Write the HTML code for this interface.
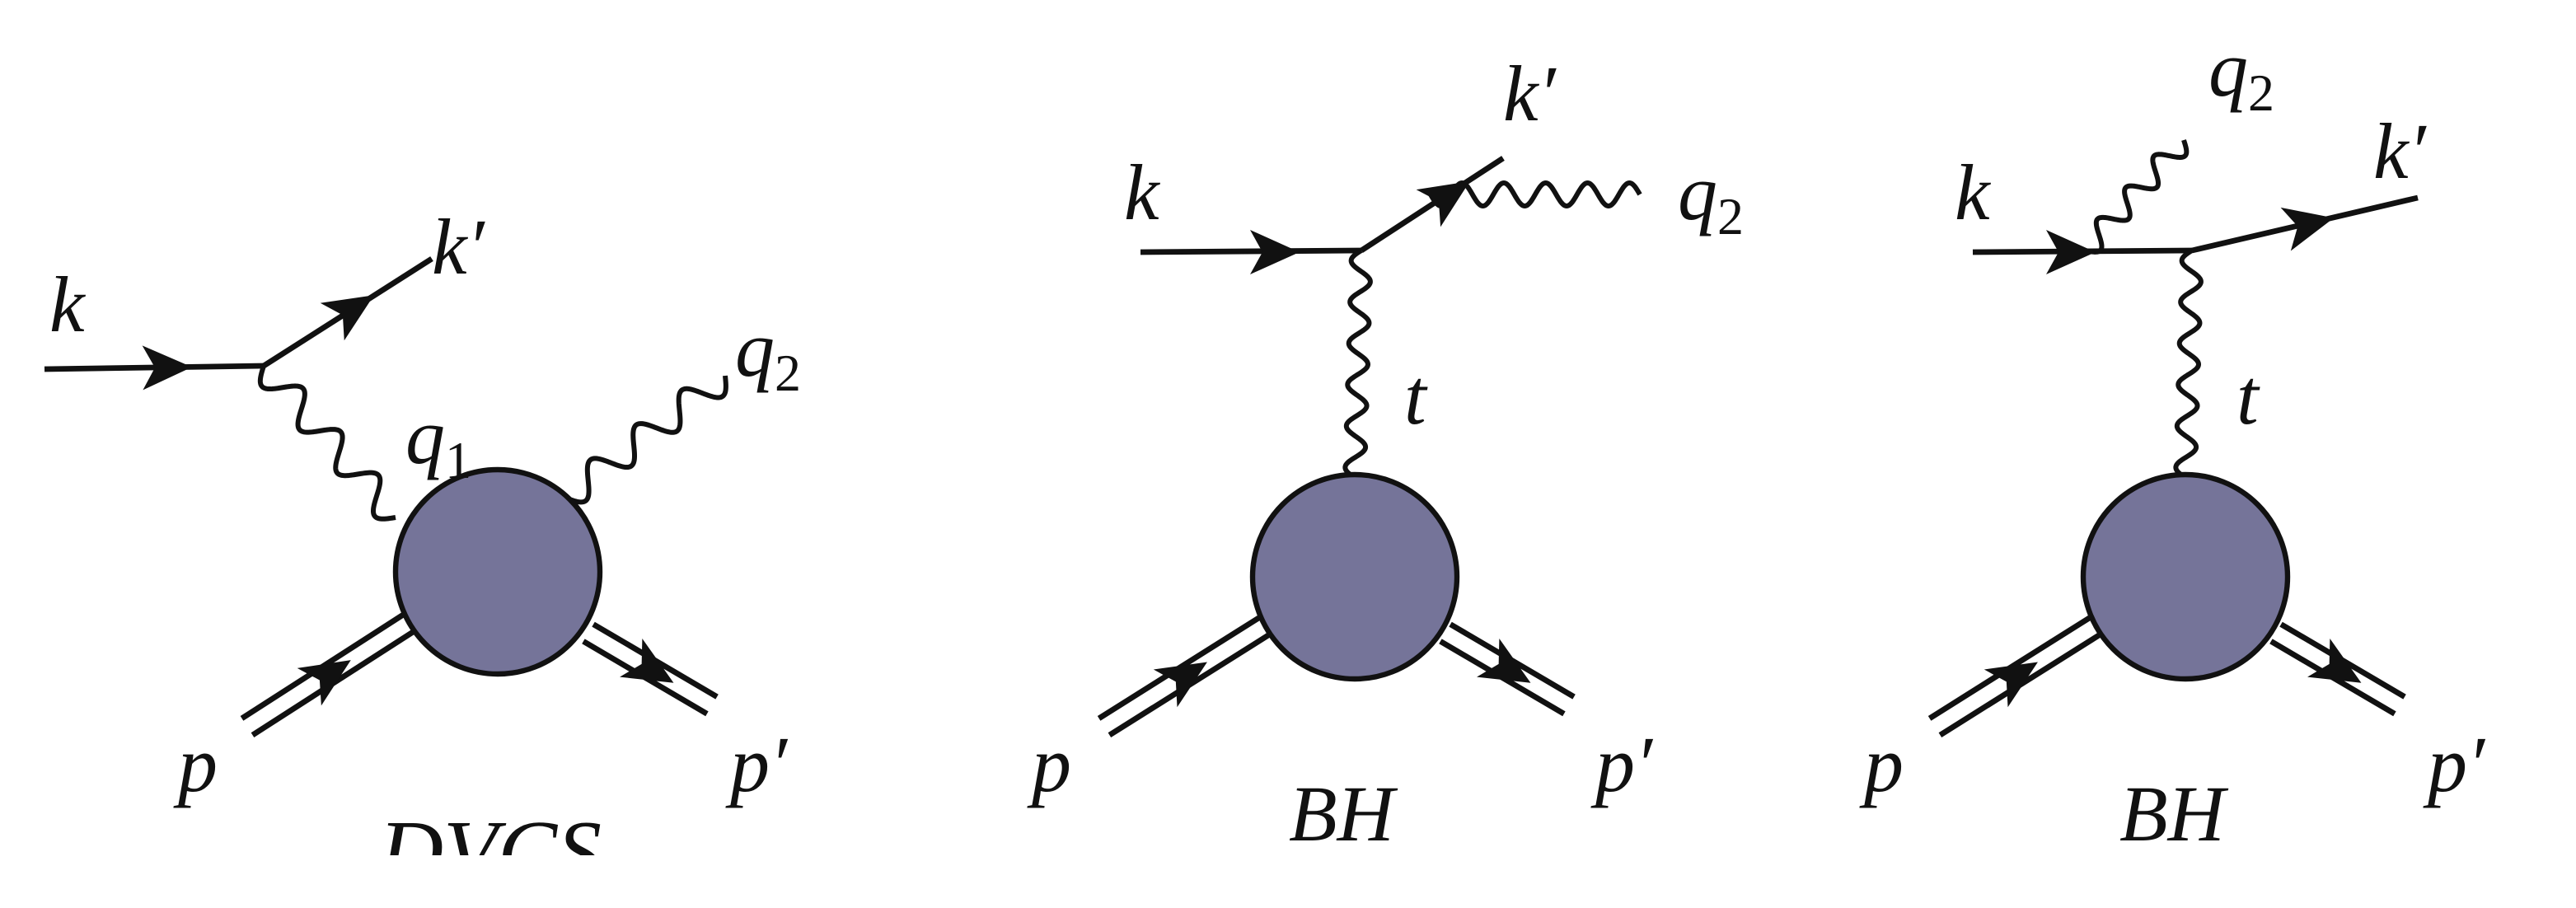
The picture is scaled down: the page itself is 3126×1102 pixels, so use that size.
<!DOCTYPE html>
<html><head><meta charset="utf-8">
<style>html,body{margin:0;padding:0;background:#fff;}svg{display:block;}
text{font-family:"Liberation Serif",serif;font-style:italic;fill:#111;}</style></head>
<body>
<svg id="s" width="3126" height="1102" viewBox="0 0 1563 551" xmlns="http://www.w3.org/2000/svg">
<g id="g" stroke="#111" stroke-width="3.4" fill="none" stroke-linecap="butt">
<line x1="27" y1="224" x2="160" y2="222"/>
<line x1="160" y1="222" x2="262" y2="157"/>
<line x1="692" y1="153" x2="826" y2="152"/>
<line x1="826" y1="152" x2="912" y2="96"/>
<line x1="1197" y1="153" x2="1330" y2="152"/>
<line x1="1330" y1="152" x2="1467" y2="120"/>
</g>
<g id="w" stroke="#111" stroke-width="3" fill="none"></g>
<g id="blobs" stroke="#111" stroke-width="3.2" fill="#757499">
<circle cx="302" cy="347" r="62"/>
<circle cx="822" cy="350" r="62"/>
<circle cx="1326" cy="350" r="62"/>
</g>
<g id="a" fill="#111" stroke="none"></g>
<g font-size="48">
<text x="30" y="201">k</text>
<text x="262" y="166">k′</text>
<text x="246" y="281">q<tspan font-size="32" font-style="normal" dy="9">1</tspan></text>
<text x="446" y="228">q<tspan font-size="32" font-style="normal" dy="9">2</tspan></text>
<text x="108" y="480">p</text>
<text x="443" y="480">p′</text>
<text x="230" y="535" font-size="54">DVCS</text>

<text x="682" y="133">k</text>
<text x="912" y="73">k′</text>
<text x="1018" y="133">q<tspan font-size="32" font-style="normal" dy="9">2</tspan></text>
<text x="852" y="257">t</text>
<text x="626" y="480">p</text>
<text x="968" y="480">p′</text>
<text x="782" y="510">BH</text>

<text x="1186" y="133">k</text>
<text x="1340" y="58">q<tspan font-size="32" font-style="normal" dy="9">2</tspan></text>
<text x="1440" y="108">k′</text>
<text x="1357" y="257">t</text>
<text x="1131" y="480">p</text>
<text x="1473" y="480">p′</text>
<text x="1286" y="510">BH</text>
</g>
<rect x="0" y="519" width="1563" height="40" fill="#fff"/>
</svg>
<script>
var NS="http://www.w3.org/2000/svg";
function wave(x1,y1,x2,y2,n,amp){
  var dx=x2-x1,dy=y2-y1,L=Math.hypot(dx,dy),ux=dx/L,uy=dy/L,nx=-uy,ny=ux,d="";
  var N=300;
  for(var i=0;i<=N;i++){var t=i/N,s=amp*Math.sin(t*n*2*Math.PI);
    var x=x1+dx*t+nx*s,y=y1+dy*t+ny*s;d+=(i?"L":"M")+x.toFixed(2)+" "+y.toFixed(2);}
  var p=document.createElementNS(NS,"path");p.setAttribute("d",d);document.getElementById("w").appendChild(p);
}
function line(x1,y1,x2,y2){var l=document.createElementNS(NS,"line");
  l.setAttribute("x1",x1);l.setAttribute("y1",y1);l.setAttribute("x2",x2);l.setAttribute("y2",y2);
  document.getElementById("g").appendChild(l);}
function arrow(cx,cy,ang,size){
  var c=Math.cos(ang),s=Math.sin(ang),L=size,W=size*0.45;
  var pts=[[L*0.55,0],[-L*0.45,-W],[-L*0.2,0],[-L*0.45,W]].map(function(p){
    return (cx+p[0]*c-p[1]*s).toFixed(2)+","+(cy+p[0]*s+p[1]*c).toFixed(2);}).join(" ");
  var g=document.createElementNS(NS,"polygon");g.setAttribute("points",pts);
  document.getElementById("a").appendChild(g);}
function dbl(x1,y1,x2,y2,off,dir){
  var dx=x2-x1,dy=y2-y1,L=Math.hypot(dx,dy),nx=-dy/L*off,ny=dx/L*off;
  line(x1+nx,y1+ny,x2+nx,y2+ny);line(x1-nx,y1-ny,x2-nx,y2-ny);
  var mx=(x1+x2)/2,my=(y1+y2)/2,ang=Math.atan2(dy,dx);if(dir<0)ang+=Math.PI;
  arrow(mx,my,ang,30);}
wave(160,222,240,314,3.5,9);
wave(343,302,440,228,3.5,9);
dbl(150,441,248,378,6,1);
dbl(357,384,432,428,6,1);
arrow(100,223,Math.atan2(-2,133),30);
arrow(213,188,Math.atan2(-65,102),30);
wave(826,152,822,290,5.5,6);
wave(868,118,995,118,5,7);
dbl(670,441,767,380,6,1);
dbl(877,384,952,428,6,1);
arrow(772,153,0,30);
arrow(878,119,Math.atan2(-56,86),30);
wave(1265,152,1325,85,3.5,7);
wave(1330,152,1326,290,5.5,6);
dbl(1174,441,1271,380,6,1);
dbl(1381,384,1456,428,6,1);
arrow(1255,153,0,30);
arrow(1400,136,Math.atan2(-32,137),30);
</script>
</body></html>
